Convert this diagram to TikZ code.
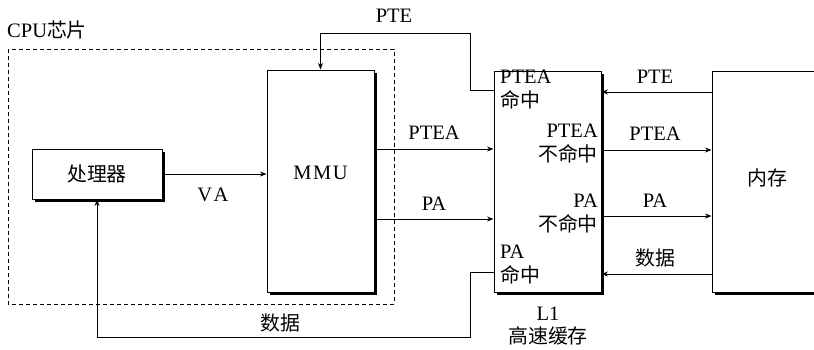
\documentclass[tikz,border=0pt]{standalone}
\usepackage{fontspec}
\setmainfont{Liberation Serif}
\newfontfamily\cjk{Noto Sans CJK SC}[Scale=0.97]
\usetikzlibrary{arrows.meta,shadows}
\newcommand{\zh}[1]{{\cjk #1}}
\begin{document}
\begin{tikzpicture}[x=1pt,y=-1pt,
  font=\fontsize{20.5}{23.5}\selectfont,
  box/.style={draw,line width=1pt,fill=white,inner sep=0pt,
    drop shadow={shadow xshift=2.6pt,shadow yshift=-2.6pt,fill=black,opacity=1}},
  conn/.style={line width=1pt,-{Stealth[length=6.5pt,width=5pt]}},
  lbl/.style={inner sep=0pt}]
\path[use as bounding box] (0,0) rectangle (814,349);
\clip (0,0) rectangle (814,349);
% CPU chip
\node[lbl,anchor=west] (cpulbl) at (7,30) {CPU\zh{芯片}};
\draw[dashed,dash pattern=on 4pt off 3pt,line width=1pt] (8,49) rectangle (394,304);
% boxes
\node[box,minimum width=130pt,minimum height=50pt] (proc) at (97,174) {\zh{处理器}};
\node[box,minimum width=107pt,minimum height=222pt] (mmu) at (320.5,181) {};
\node[lbl] (mmulbl) at (320.5,173) {M\kern1.5pt M\kern1.5pt U};
\node[box,minimum width=107pt,minimum height=221pt] (l1) at (547.5,181.5) {};
\node[box,minimum width=110pt,minimum height=221pt] (mem) at (767,181.5) {};
\node[lbl] (memlbl) at (767,178) {\zh{内存}};
% L1 inner texts
\node[lbl,anchor=north west,align=left] (l1a) at (500,70) {PTEA\\\zh{命中}};
\node[lbl,anchor=north east,align=right] (l1b) at (598,124) {PTEA\\\zh{不命中}};
\node[lbl,anchor=north east,align=right] (l1c) at (598,194) {PA\\\zh{不命中}};
\node[lbl,anchor=north west,align=left] (l1d) at (500,245) {PA\\\zh{命中}};
\node[lbl,align=center] (l1name) at (548,326) {L1\\\zh{高速缓存}};
% connectors
\draw[conn] (proc.east) -- (proc.east -| mmu.west);
\node[lbl] (va) at (213,195) {V\kern1.5pt A};
\draw[conn] (mmu.east |- 0,149) -- (l1.west |- 0,149);
\node[lbl] (ptea1) at (434,133) {PTEA};
\draw[conn] (mmu.east |- 0,219) -- (l1.west |- 0,219);
\node[lbl] (pa1) at (434,204) {PA};
\draw[conn] (mem.west |- 0,92) -- (l1.east |- 0,92);
\node[lbl] (pte2) at (655,77) {PTE};
\draw[conn] (l1.east |- 0,150) -- (mem.west |- 0,150);
\node[lbl] (ptea2) at (655,134) {PTEA};
\draw[conn] (l1.east |- 0,216) -- (mem.west |- 0,216);
\node[lbl] (pa2) at (655,201) {PA};
\draw[conn] (mem.west |- 0,274) -- (l1.east |- 0,274);
\node[lbl] (data2) at (655,258) {\zh{数据}};
% PTE loop to MMU
\coordinate (pteA) at (470,90);
\draw[conn] (l1.west |- pteA) -- (pteA) |- (mmu.north |- 0,33) -- (mmu.north);
\node[lbl] (pte1) at (394,16) {PTE};
% data loop to processor
\coordinate (datA) at (470,272);
\draw[conn] (l1.west |- datA) -- (datA) |- (proc.south |- 0,337) -- (proc.south);
\node[lbl] (data1) at (280,323) {\zh{数据}};
\end{tikzpicture}
\end{document}
